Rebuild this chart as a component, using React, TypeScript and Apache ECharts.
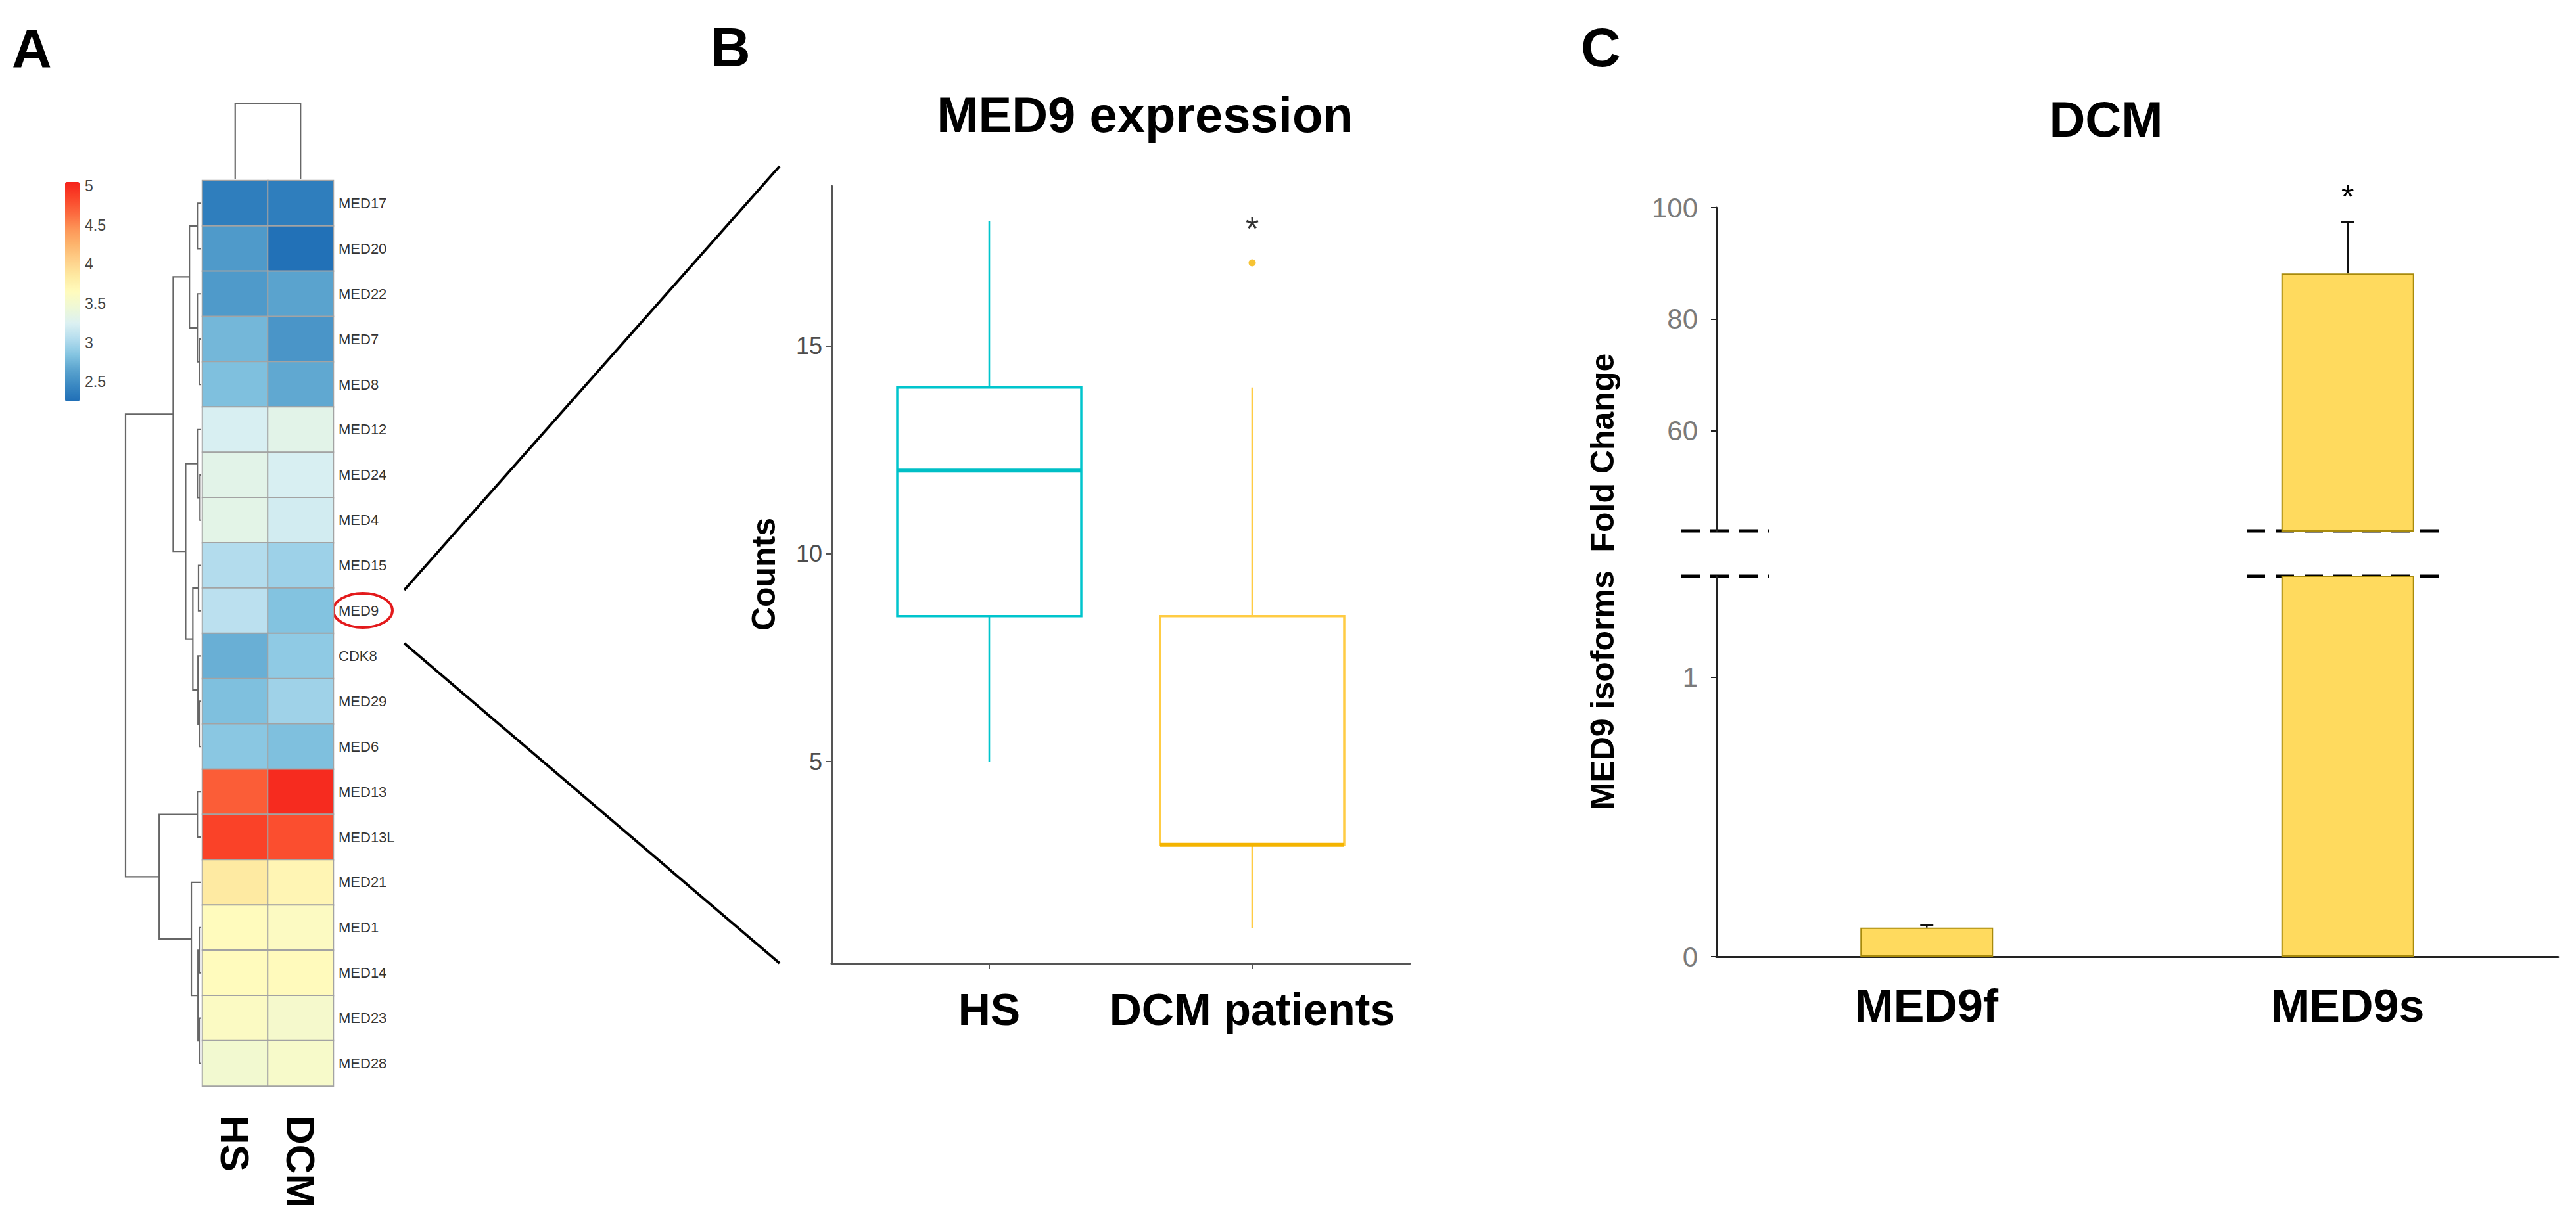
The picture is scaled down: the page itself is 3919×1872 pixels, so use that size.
import React, { useEffect, useRef } from 'react';
import * as echarts from 'echarts';

// ---------------- Panel A : heatmap ----------------
const genes = ['MED17', 'MED20', 'MED22', 'MED7', 'MED8', 'MED12', 'MED24', 'MED4', 'MED15', 'MED9', 'CDK8', 'MED29', 'MED6', 'MED13', 'MED13L', 'MED21', 'MED1', 'MED14', 'MED23', 'MED28'];
const heatColumns = ['HS', 'DCM'];
const hsExpr = [2.37, 2.58, 2.58, 2.77, 2.82, 3.23, 3.32, 3.33, 3.04, 3.08, 2.72, 2.82, 2.87, 4.72, 4.86, 3.85, 3.65, 3.65, 3.6, 3.5];
const dcmExpr = [2.37, 2.27, 2.65, 2.55, 2.68, 3.32, 3.23, 3.2, 2.95, 2.84, 2.89, 2.96, 2.82, 5.0, 4.8, 3.72, 3.61, 3.66, 3.53, 3.55];
const colorbarTicks = [2.5, 3, 3.5, 4, 4.5, 5];
const heatMin = 2.25;
const heatMax = 5.05;
const heatPalette = ['#1f6eb6', '#3a88c2', '#5aa3ce', '#85c5e1', '#b5ddee', '#dcf1f2', '#eef8d6', '#fffbbd', '#feeaa2', '#fed08a', '#fdb56d', '#fd9557', '#fc6a3f', '#fa4429', '#f5221b'];
// hclust-style merges: negative = leaf (row index + 1), positive = earlier merge step; third = height
const rowMerges: [number, number, number][] = [
  [-7, -8, 0.15], [-12, -13, 0.17], [-17, -18, 0.17], [-19, -20, 0.17], [-4, -5, 0.25],
  [-9, -10, 0.35], [-11, 2, 0.42], [3, 4, 0.42], [-1, -2, 0.5], [-3, 5, 0.5],
  [-6, 1, 0.5], [-14, -15, 0.5], [6, 7, 1.1], [-16, 8, 1.3], [9, 10, 1.55],
  [11, 13, 2.05], [15, 16, 3.7], [12, 14, 5.55], [17, 18, 10],
];
const colMerges: [number, number, number][] = [[-1, -2, 1]];

// ---------------- Panel B : boxplot ----------------
const boxGroups = ['HS', 'DCM patients'];
const boxMin = [5, 1];
const boxQ1 = [8.5, 3];
const boxMedian = [12, 3];
const boxQ3 = [14, 8.5];
const boxMax = [18, 14];
const boxOutliers = [[2, 17]];
const boxStar = [[2, 17.82]];
const countTicks = [5, 10, 15];

// ---------------- Panel C : broken-axis bars ----------------
const isoforms = ['MED9f', 'MED9s'];
const foldMean = [0.104, 88.2];
const foldErr = [0.01, 9.2];
const significant = [false, true];
const upperTicks = [60, 80, 100];
const lowerTicks = [0, 1];
const upperMin = 42.1;
const upperMax = 100;
const lowerMin = 0;
const lowerMax = 1.362;

const SANS = "'Liberation Sans', Arial, Helvetica, sans-serif";
const NARROW = "'Liberation Sans Narrow', 'Arial Narrow', 'Liberation Sans', Arial, sans-serif";

function dendroSegments(merges: [number, number, number][]) {
  const pos: number[] = [];
  const hts: number[] = [];
  const segs: number[][] = [];
  const get = (id: number) => (id < 0 ? [-id - 1, 0] : [pos[id - 1], hts[id - 1]]);
  merges.forEach(([a, b, h], k) => {
    const [pa, ha] = get(a);
    const [pb, hb] = get(b);
    pos[k] = (pa + pb) / 2;
    hts[k] = h;
    segs.push([pa, ha, pb, hb, h]);
  });
  return segs;
}

const dendroRender = (horizontal: boolean) => (_params: any, api: any) => {
  const pa = api.value(0), ha = api.value(1), pb = api.value(2), hb = api.value(3), h = api.value(4);
  const P = (hh: number, pp: number) => (horizontal ? api.coord([hh, pp]) : api.coord([pp, hh]));
  return {
    type: 'polyline',
    silent: true,
    shape: { points: [P(ha, pa), P(h, pa), P(h, pb), P(hb, pb)] },
    style: { stroke: '#666', lineWidth: 2.2, fill: 'none' },
  };
};

const boxLineColors = ['#00C5CD', '#FFCC44'];
const boxMedianColors = ['#00BFC6', '#F4B400'];

const boxRender = (params: any, api: any) => {
  const x = api.value(0);
  const lo = api.value(1), q1 = api.value(2), med = api.value(3), q3 = api.value(4), hi = api.value(5);
  const col = boxLineColors[params.dataIndex];
  const medCol = boxMedianColors[params.dataIndex];
  const halfW = api.size([0.7, 0])[0] / 2;
  const cx = api.coord([x, lo])[0];
  const y = (v: number) => api.coord([x, v])[1];
  return {
    type: 'group',
    children: [
      { type: 'line', shape: { x1: cx, y1: y(hi), x2: cx, y2: y(q3) }, style: { stroke: col, lineWidth: 2.6 } },
      { type: 'line', shape: { x1: cx, y1: y(q1), x2: cx, y2: y(lo) }, style: { stroke: col, lineWidth: 2.6 } },
      { type: 'rect', shape: { x: cx - halfW, y: y(q3), width: 2 * halfW, height: y(q1) - y(q3) }, style: { fill: 'none', stroke: col, lineWidth: 3.5 } },
      { type: 'line', shape: { x1: cx - halfW, y1: y(med), x2: cx + halfW, y2: y(med) }, style: { stroke: medCol, lineWidth: 6 } },
    ],
  };
};

const errRender = (_params: any, api: any) => {
  const x = api.value(0), m = api.value(1), top = api.value(2), star = api.value(3);
  const [cx, y0] = api.coord([x, m]);
  const y1 = api.coord([x, top])[1];
  const children: any[] = [
    { type: 'line', shape: { x1: cx, y1: y0, x2: cx, y2: y1 }, style: { stroke: '#111', lineWidth: 2.5 } },
    { type: 'line', shape: { x1: cx - 10, y1: y1, x2: cx + 10, y2: y1 }, style: { stroke: '#111', lineWidth: 3 } },
  ];
  if (star === 1) {
    children.push({ type: 'text', x: cx, y: y1 - 38, style: { text: '*', fontSize: 50, fontFamily: SANS, fill: '#000', align: 'center', verticalAlign: 'middle' } });
  }
  return { type: 'group', children };
};

function buildOption(): any {
  const heatData: number[][] = [];
  genes.forEach((_, i) => {
    heatData.push([0, i, hsExpr[i]]);
    heatData.push([1, i, dcmExpr[i]]);
  });
  const boxData = boxGroups.map((_, i) => [i + 1, boxMin[i], boxQ1[i], boxMedian[i], boxQ3[i], boxMax[i]]);
  const errAll = isoforms.map((_, i) => [i, foldMean[i], foldMean[i] + foldErr[i], significant[i] ? 1 : 0]);
  const errUpper = errAll.filter((d) => d[1] > upperMin);
  const errLower = errAll.filter((d) => d[2] <= lowerMax);

  const hiddenValue = (min: number, max: number, inverse = false) => ({ type: 'value', min, max, inverse, show: false });

  const cYAxis = (gi: number, min: number, max: number, ticks: number[]) => ({
    type: 'value', gridIndex: gi, min, max,
    axisLine: { show: true, lineStyle: { color: '#222', width: 3 } },
    axisTick: { show: true, customValues: ticks, length: 8, lineStyle: { color: '#222', width: 2 } },
    axisLabel: { customValues: ticks, fontSize: 42, fontFamily: NARROW, color: '#7a7a7a', margin: 28 },
    splitLine: { show: false },
  });

  return {
    animation: false,
    backgroundColor: '#ffffff',
    textStyle: { fontFamily: SANS },
    grid: [
      { left: 308, top: 275, width: 199, height: 1378 }, // 0 heatmap
      { left: 191, top: 275, width: 115, height: 1378 }, // 1 row dendrogram
      { left: 308, top: 157, width: 199, height: 116 }, // 2 column dendrogram
      { left: 99, top: 277, width: 22, height: 334 }, // 3 colorbar labels
      { left: 1265, top: 283, width: 880, height: 1183 }, // 4 boxplot
      { left: 2611, top: 316, width: 1281, height: 492 }, // 5 bars upper
      { left: 2611, top: 877, width: 1281, height: 579 }, // 6 bars lower
    ],
    xAxis: [
      {
        type: 'category', gridIndex: 0, data: heatColumns, position: 'bottom',
        axisLine: { show: false }, axisTick: { show: false },
        axisLabel: { rotate: -90, interval: 0, fontSize: 62, fontWeight: 'bold', color: '#000', margin: 44 },
      },
      { gridIndex: 1, ...hiddenValue(0, 10, true) },
      { gridIndex: 2, ...hiddenValue(-0.5, 1.5) },
      { gridIndex: 3, ...hiddenValue(0, 1) },
      {
        type: 'value', gridIndex: 4, min: 0.4, max: 2.6,
        axisLine: { show: true, lineStyle: { color: '#555', width: 3 } },
        axisTick: { show: true, customValues: [1, 2], length: 9, lineStyle: { color: '#555', width: 2 } },
        axisLabel: { customValues: [1, 2], formatter: (v: number) => boxGroups[Math.round(v) - 1], fontSize: 68, fontWeight: 'bold', color: '#000', margin: 36 },
        splitLine: { show: false },
      },
      { type: 'category', gridIndex: 5, data: isoforms, show: false },
      {
        type: 'category', gridIndex: 6, data: isoforms,
        axisLine: { show: true, lineStyle: { color: '#222', width: 3 } },
        axisTick: { show: false },
        axisLabel: { fontSize: 70, fontWeight: 'bold', color: '#000', margin: 40 },
      },
    ],
    yAxis: [
      {
        type: 'category', gridIndex: 0, data: genes, inverse: true, position: 'right',
        axisLine: { show: false }, axisTick: { show: false },
        axisLabel: { interval: 0, fontSize: 22, color: '#333', margin: 8 },
      },
      { gridIndex: 1, ...hiddenValue(-0.5, 19.5, true) },
      { gridIndex: 2, ...hiddenValue(0, 1) },
      {
        type: 'value', gridIndex: 3, min: heatMin, max: heatMax, position: 'right',
        axisLine: { show: false }, axisTick: { show: false }, splitLine: { show: false },
        axisLabel: { customValues: colorbarTicks, fontSize: 23, color: '#444', margin: 8 },
      },
      {
        type: 'value', gridIndex: 4, min: 0.15, max: 18.85,
        axisLine: { show: true, lineStyle: { color: '#555', width: 3 } },
        axisTick: { show: true, customValues: countTicks, length: 8, lineStyle: { color: '#555', width: 2 } },
        axisLabel: { customValues: countTicks, fontSize: 36, fontFamily: NARROW, color: '#4d4d4d', margin: 14 },
        splitLine: { show: false },
      },
      cYAxis(5, upperMin, upperMax, upperTicks),
      cYAxis(6, lowerMin, lowerMax, lowerTicks),
    ],
    visualMap: [
      {
        type: 'continuous', seriesIndex: 0, min: heatMin, max: heatMax,
        inRange: { color: heatPalette },
        show: true, orient: 'vertical', left: 99, top: 277, itemWidth: 22, itemHeight: 334,
        calculable: false, padding: 0, hoverLink: false,
      },
    ],
    series: [
      {
        type: 'heatmap', xAxisIndex: 0, yAxisIndex: 0, data: heatData,
        itemStyle: { borderColor: '#a3a3a3', borderWidth: 2 },
        emphasis: { disabled: true }, silent: true,
      },
      { type: 'custom', xAxisIndex: 1, yAxisIndex: 1, data: dendroSegments(rowMerges), renderItem: dendroRender(true), silent: true },
      { type: 'custom', xAxisIndex: 2, yAxisIndex: 2, data: dendroSegments(colMerges), renderItem: dendroRender(false), silent: true },
      { type: 'custom', xAxisIndex: 4, yAxisIndex: 4, data: boxData, renderItem: boxRender, silent: true },
      { type: 'scatter', xAxisIndex: 4, yAxisIndex: 4, data: boxOutliers, symbolSize: 11, itemStyle: { color: '#F4B400' }, silent: true },
      {
        type: 'scatter', xAxisIndex: 4, yAxisIndex: 4, data: boxStar, symbolSize: 1,
        itemStyle: { color: 'rgba(0,0,0,0)' },
        label: { show: true, position: 'inside', formatter: '*', fontSize: 52, color: '#000' }, silent: true,
      },
      {
        type: 'bar', xAxisIndex: 5, yAxisIndex: 5, barWidth: 202,
        data: foldMean.map((v) => (v > upperMin ? v : '-')),
        itemStyle: { color: '#FFDA5E', borderColor: '#A88A0C', borderWidth: 2 }, silent: true,
      },
      {
        type: 'bar', xAxisIndex: 6, yAxisIndex: 6, barWidth: 202, data: foldMean,
        itemStyle: { color: '#FFDA5E', borderColor: '#A88A0C', borderWidth: 2 }, silent: true,
      },
      { type: 'custom', xAxisIndex: 5, yAxisIndex: 5, data: errUpper, renderItem: errRender, silent: true },
      { type: 'custom', xAxisIndex: 6, yAxisIndex: 6, data: errLower, renderItem: errRender, silent: true },
    ],
    graphic: [
      { type: 'text', x: 18, y: 74, style: { text: 'A', fontSize: 84, fontWeight: 'bold', fontFamily: SANS, fill: '#000', align: 'left', verticalAlign: 'middle' } },
      { type: 'text', x: 1081, y: 72, style: { text: 'B', fontSize: 84, fontWeight: 'bold', fontFamily: SANS, fill: '#000', align: 'left', verticalAlign: 'middle' } },
      { type: 'text', x: 2405, y: 72, style: { text: 'C', fontSize: 84, fontWeight: 'bold', fontFamily: SANS, fill: '#000', align: 'left', verticalAlign: 'middle' } },
      { type: 'text', x: 1742, y: 174, style: { text: 'MED9 expression', fontSize: 76, fontWeight: 'bold', fontFamily: SANS, fill: '#000', align: 'center', verticalAlign: 'middle' } },
      { type: 'text', x: 3204, y: 181, style: { text: 'DCM', fontSize: 76, fontWeight: 'bold', fontFamily: SANS, fill: '#000', align: 'center', verticalAlign: 'middle' } },
      { type: 'text', x: 1162, y: 874, rotation: Math.PI / 2, style: { text: 'Counts', fontSize: 50, fontWeight: 'bold', fontFamily: SANS, fill: '#000', align: 'center', verticalAlign: 'middle' } },
      { type: 'text', x: 2438, y: 885, rotation: Math.PI / 2, style: { text: 'MED9 isoforms  Fold Change', fontSize: 50, fontWeight: 'bold', fontFamily: SANS, fill: '#000', align: 'center', verticalAlign: 'middle' } },
      { type: 'ellipse', shape: { cx: 552, cy: 929, rx: 45, ry: 26 }, style: { fill: 'none', stroke: '#e31a1c', lineWidth: 4 } },
      { type: 'line', shape: { x1: 615, y1: 898, x2: 1186, y2: 253 }, style: { stroke: '#000', lineWidth: 4 } },
      { type: 'line', shape: { x1: 615, y1: 979, x2: 1186, y2: 1466 }, style: { stroke: '#000', lineWidth: 4 } },
      { type: 'line', shape: { x1: 2558, y1: 808, x2: 2692, y2: 808 }, style: { stroke: '#000', lineWidth: 5, lineDash: [28, 16] } },
      { type: 'line', shape: { x1: 2558, y1: 877, x2: 2692, y2: 877 }, style: { stroke: '#000', lineWidth: 5, lineDash: [28, 16] } },
      { type: 'line', shape: { x1: 3418, y1: 808, x2: 3715, y2: 808 }, style: { stroke: '#000', lineWidth: 5, lineDash: [28, 16] } },
      { type: 'line', shape: { x1: 3418, y1: 877, x2: 3715, y2: 877 }, style: { stroke: '#000', lineWidth: 5, lineDash: [28, 16] } },
    ],
  };
}

export default function App() {
  const ref = useRef<HTMLDivElement>(null);
  useEffect(() => {
    if (!ref.current) return;
    const chart = echarts.init(ref.current, null, { renderer: 'svg' });
    chart.setOption(buildOption());
    return () => chart.dispose();
  }, []);
  return (
    <div
      ref={ref}
      style={{ position: 'absolute', left: 0, top: 0, width: 3919, height: 1872, background: '#ffffff' }}
    />
  );
}
